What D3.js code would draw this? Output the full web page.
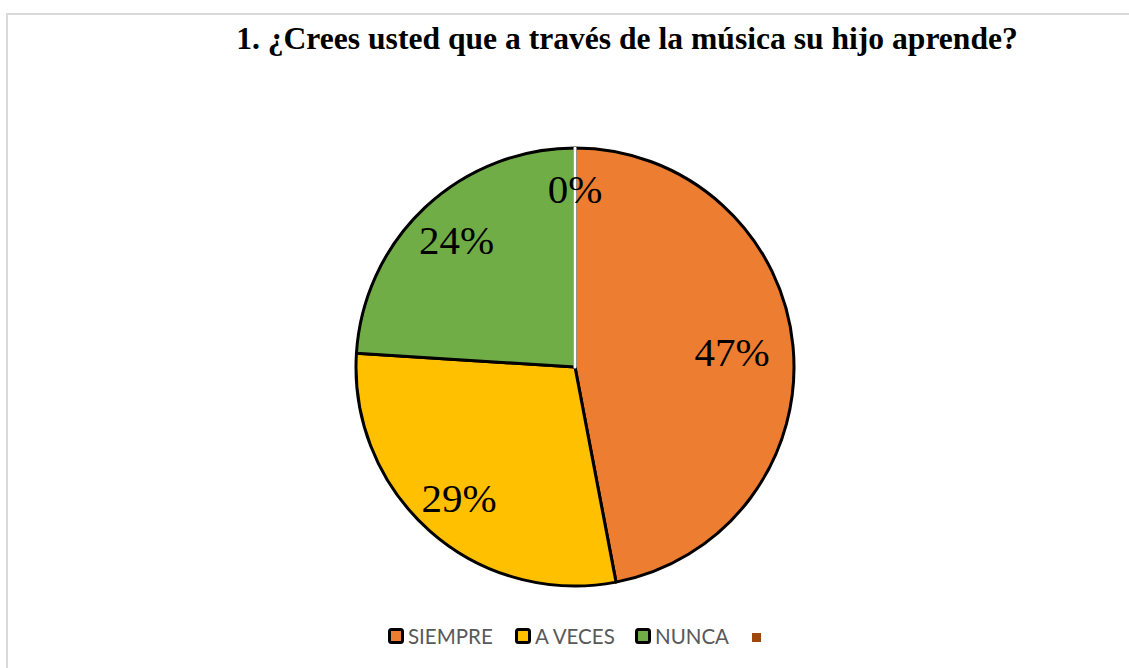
<!DOCTYPE html>
<html><head><meta charset="utf-8">
<script src="https://cdn.jsdelivr.net/npm/d3@7"></script>
<style>body{margin:0;background:#fff;} svg{display:block;}</style>
</head><body>
<svg id="chart" width="1129" height="668"></svg>
<script>
const title = "1. ¿Crees usted que a través de la música su hijo aprende?";
const categories = ["SIEMPRE", "A VECES", "NUNCA", ""];
const values = [47, 29, 24, 0];
const labels = ["47%", "29%", "24%", "0%"];
const colors = ["#ED7D31", "#FFC000", "#70AD47", "#9E480E"];
const strokes = ["#000", "#000", "#000", "#fff"];
const labelRadius = [0.72, 0.8, 0.79, 0.81];

const svg = d3.select("#chart");
const W = 1129, H = 668;
svg.append("rect").attr("width", W).attr("height", H).attr("fill", "#fff");
// chart area border
svg.append("path").attr("d", "M7,668 L7,14 L1129,14").attr("fill", "none")
  .attr("stroke", "#d9d9d9").attr("stroke-width", 2);

svg.append("text").attr("x", 627).attr("y", 48.5).attr("text-anchor", "middle")
  .attr("font-family", "Liberation Serif").attr("font-weight", "bold")
  .attr("font-size", 31.6).attr("fill", "#000").text(title);

const cx = 575, cy = 367, R = 219;
const pie = d3.pie().sort(null).value(d => d).startAngle(0).endAngle(2 * Math.PI);
const arcs = pie(values);
const arc = d3.arc().innerRadius(0).outerRadius(R);
const g = svg.append("g").attr("transform", `translate(${cx},${cy})`);
g.selectAll("path.slice").data(arcs).join("path").attr("class", "slice")
  .attr("d", arc).attr("fill", (d, i) => colors[i])
  .attr("stroke", (d, i) => strokes[i]).attr("stroke-width", 3)
  .attr("stroke-linejoin", "round");

g.selectAll("text.lbl").data(arcs).join("text").attr("class", "lbl")
  .attr("transform", (d, i) => {
    const a = d3.arc().innerRadius(R * labelRadius[i]).outerRadius(R * labelRadius[i]);
    const c = a.centroid(d);
    return `translate(${c[0]},${c[1]})`;
  })
  .attr("text-anchor", "middle").attr("dy", "0.33em")
  .attr("font-family", "Liberation Serif").attr("font-size", 41).attr("fill", "#000")
  .text((d, i) => labels[i]);

// legend
const legendX = [388, 515, 635, 752];
const lg = svg.append("g");
categories.forEach((c, i) => {
  if (i < 3) {
    lg.append("rect").attr("x", legendX[i] + 1.5).attr("y", 629.5).attr("width", 13).attr("height", 13)
      .attr("rx", 2).attr("fill", colors[i]).attr("stroke", "#000").attr("stroke-width", 3);
  } else {
    lg.append("rect").attr("x", legendX[i]).attr("y", 633).attr("width", 9).attr("height", 9)
      .attr("fill", colors[i]);
  }
  lg.append("text").attr("x", legendX[i] + 20).attr("y", 644)
    .attr("font-family", "Lato").attr("font-size", 20.5).attr("fill", "#595959").text(c);
});
</script>
</body></html>
